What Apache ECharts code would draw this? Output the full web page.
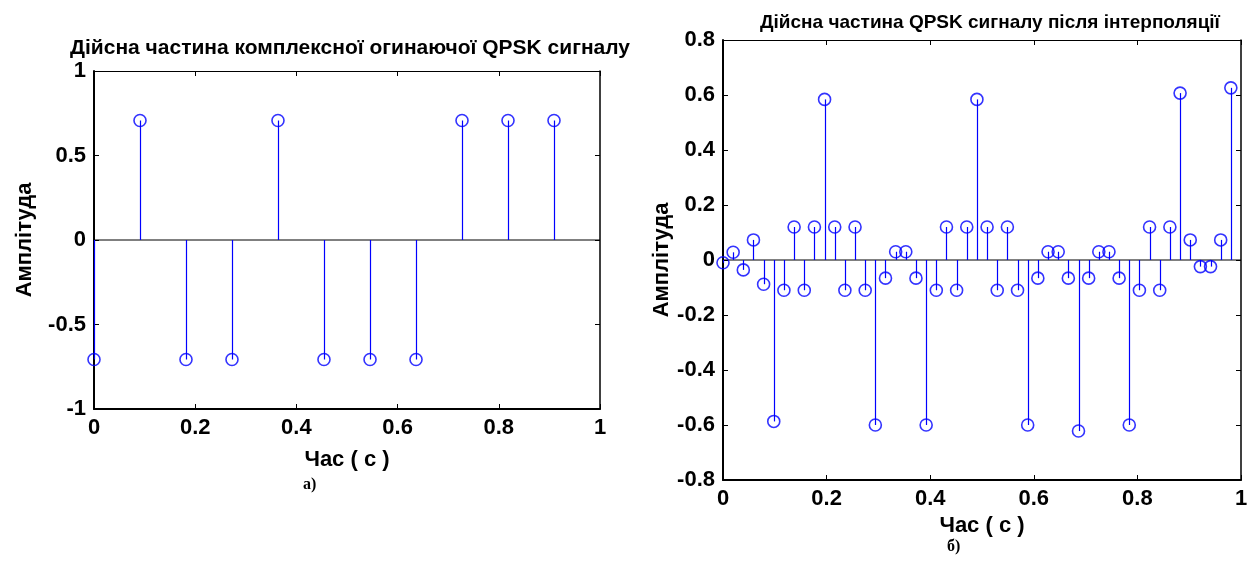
<!DOCTYPE html>
<html>
<head>
<meta charset="utf-8">
<script src="https://cdn.jsdelivr.net/npm/echarts@6/dist/echarts.min.js"></script>
<style>
html,body{margin:0;padding:0;background:#fff;}
#c{width:1252px;height:561px;}
</style>
</head>
<body>
<div id="c"></div>
<script>
// ---- data ----
const leftTitle = 'Дійсна частина комплексної огинаючої QPSK сигналу';
const rightTitle = 'Дійсна частина QPSK сигналу після інтерполяції';
const xName = 'Час ( с )';
const yName = 'Амплітуда';
const captions = ['а)', 'б)'];

const leftT = [0, 0.0909, 0.1818, 0.2727, 0.3636, 0.4545, 0.5455, 0.6364, 0.7273, 0.8182, 0.9091];
const leftV = [-0.7071, 0.7071, -0.7071, -0.7071, 0.7071, -0.7071, -0.7071, -0.7071, 0.7071, 0.7071, 0.7071];

const rightT = [0, 0.0196, 0.0392, 0.0588, 0.0784, 0.0980, 0.1176, 0.1373, 0.1569, 0.1765,
  0.1961, 0.2157, 0.2353, 0.2549, 0.2745, 0.2941, 0.3137, 0.3333, 0.3529, 0.3725,
  0.3922, 0.4118, 0.4314, 0.4510, 0.4706, 0.4902, 0.5098, 0.5294, 0.5490, 0.5686,
  0.5882, 0.6078, 0.6275, 0.6471, 0.6667, 0.6863, 0.7059, 0.7255, 0.7451, 0.7647,
  0.7843, 0.8039, 0.8235, 0.8431, 0.8627, 0.8824, 0.9020, 0.9216, 0.9412, 0.9608, 0.9804];
const rightV = [-0.01, 0.028, -0.036, 0.073, -0.088, -0.587, -0.11, 0.12, -0.11, 0.12,
  0.584, 0.12, -0.11, 0.12, -0.11, -0.60, -0.066, 0.03, 0.03, -0.066,
  -0.60, -0.11, 0.12, -0.11, 0.12, 0.584, 0.12, -0.11, 0.12, -0.11,
  -0.60, -0.066, 0.03, 0.03, -0.066, -0.622, -0.066, 0.03, 0.03, -0.066,
  -0.60, -0.11, 0.12, -0.11, 0.12, 0.607, 0.073, -0.024, -0.024, 0.073, 0.626];

const xTicks = [0, 0.2, 0.4, 0.6, 0.8, 1];
const leftYTicks = [-1, -0.5, 0, 0.5, 1];
const rightYTicks = [-0.8, -0.6, -0.4, -0.2, 0, 0.2, 0.4, 0.6, 0.8];

// ---- chart ----
const FONT = "'Liberation Sans', Arial, sans-serif";
const BLUE = '#0000ff';
const fmt = v => String(Math.round(v * 10) / 10);

function pairs(t, v) { return t.map((x, i) => [x, v[i]]); }

function stemRender(params, api) {
  const x = api.value(0), y = api.value(1);
  const p0 = api.coord([x, 0]);
  const p1 = api.coord([x, y]);
  const px = Math.round(p0[0]) + 0.5;
  return {type: 'line', shape: {x1: px, y1: p0[1], x2: px, y2: p1[1]},
    style: {stroke: BLUE, lineWidth: 1.2}};
}

function mainX(gi, ticks, gap) {
  return {type: 'value', gridIndex: gi, min: ticks[0], max: ticks[ticks.length - 1],
    interval: 0.2, position: 'bottom',
    name: xName, nameLocation: 'middle', nameGap: gap,
    nameTextStyle: {fontFamily: FONT, fontWeight: 'bold', fontSize: 22, color: '#000'},
    axisLine: {show: true, onZero: false, lineStyle: {color: '#000', width: 2}},
    axisTick: {show: true, inside: true, length: 5, lineStyle: {color: '#000', width: 1}},
    axisLabel: {formatter: fmt, fontFamily: FONT, fontWeight: 'bold', fontSize: 22, color: '#000', margin: 8},
    splitLine: {show: false}};
}
function boxX(gi, ticks) {
  return {type: 'value', gridIndex: gi, min: ticks[0], max: ticks[ticks.length - 1],
    interval: 0.2, position: 'top',
    axisLine: {show: true, onZero: false, lineStyle: {color: '#000', width: 1}},
    axisTick: {show: true, inside: true, length: 5, lineStyle: {color: '#000', width: 1}},
    axisLabel: {show: false}, splitLine: {show: false}};
}
function mainY(gi, ticks, step, gap) {
  return {type: 'value', gridIndex: gi, min: ticks[0], max: ticks[ticks.length - 1],
    interval: step, position: 'left',
    name: yName, nameLocation: 'middle', nameGap: gap, nameRotate: 90,
    nameTextStyle: {fontFamily: FONT, fontWeight: 'bold', fontSize: 22, color: '#000'},
    axisLine: {show: true, onZero: false, lineStyle: {color: '#000', width: 2}},
    axisTick: {show: true, inside: true, length: 5, lineStyle: {color: '#000', width: 1}},
    axisLabel: {formatter: fmt, fontFamily: FONT, fontWeight: 'bold', fontSize: 22, color: '#000', margin: 8},
    splitLine: {show: false}};
}
function boxY(gi, ticks, step) {
  return {type: 'value', gridIndex: gi, min: ticks[0], max: ticks[ticks.length - 1],
    interval: step, position: 'right',
    axisLine: {show: true, onZero: false, lineStyle: {color: '#000', width: 1.5}},
    axisTick: {show: true, inside: true, length: 5, lineStyle: {color: '#000', width: 1}},
    axisLabel: {show: false}, splitLine: {show: false}};
}

function seriesFor(gi, t, v) {
  const xi = gi * 2, yi = gi * 2;
  return [
    {type: 'line', xAxisIndex: xi, yAxisIndex: yi, data: [[0, 0], [1, 0]],
      symbol: 'none', lineStyle: {color: '#000', width: 1}, silent: true, z: 1},
    {type: 'custom', xAxisIndex: xi, yAxisIndex: yi, data: pairs(t, v),
      renderItem: stemRender, z: 2, silent: true},
    {type: 'scatter', xAxisIndex: xi, yAxisIndex: yi, data: pairs(t, v),
      symbol: 'circle', symbolSize: 12, z: 3, silent: true,
      itemStyle: {color: 'rgba(0,0,0,0)', borderColor: BLUE, borderWidth: 1.6}}
  ];
}

const chart = echarts.init(document.getElementById('c'), null, {renderer: 'canvas'});
chart.setOption({
  backgroundColor: '#fff',
  animation: false,
  title: [
    {text: leftTitle, left: 345, top: 33, textAlign: 'center',
      textStyle: {fontFamily: FONT, fontWeight: 'bold', fontSize: 21, color: '#000'}},
    {text: rightTitle, left: 985, top: 8, textAlign: 'center',
      textStyle: {fontFamily: FONT, fontWeight: 'bold', fontSize: 19, color: '#000'}}
  ],
  grid: [
    {left: 94, top: 71, width: 506, height: 338, show: false},
    {left: 723, top: 40, width: 518, height: 440, show: false}
  ],
  xAxis: [mainX(0, xTicks, 40), boxX(0, xTicks), mainX(1, xTicks, 33), boxX(1, xTicks)],
  yAxis: [mainY(0, leftYTicks, 0.5, 58), boxY(0, leftYTicks, 0.5),
          mainY(1, rightYTicks, 0.2, 50), boxY(1, rightYTicks, 0.2)],
  series: [].concat(seriesFor(0, leftT, leftV), seriesFor(1, rightT, rightV)),
  graphic: [
    {type: 'text', left: 303, top: 477, style: {text: captions[0], fontFamily: "'Liberation Serif', serif", fontWeight: 'bold', fontSize: 16, fill: '#000'}},
    {type: 'text', left: 947, top: 539, style: {text: captions[1], fontFamily: "'Liberation Serif', serif", fontWeight: 'bold', fontSize: 16, fill: '#000'}}
  ]
});
</script>
</body>
</html>
